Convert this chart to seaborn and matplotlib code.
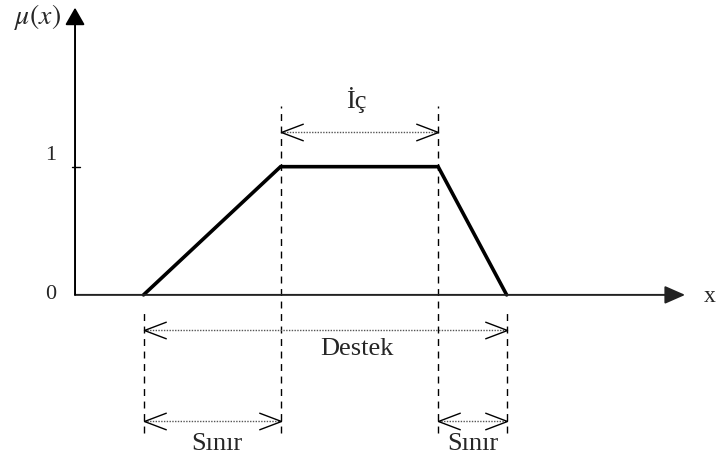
import matplotlib
matplotlib.use("Agg")
import matplotlib.pyplot as plt
from matplotlib.path import Path
import seaborn as sns
import pandas as pd

# trapezoidal membership function
x_points = [1.0, 3.0, 5.3, 6.3]
mu_points = [0, 1, 1, 0]

y_tick_values = [0, 1]
y_tick_labels = ["0", "1"]

# dimension arrows: (start, end, label)
span_starts = [3.0, 1.0, 1.0, 5.3]
span_ends = [5.3, 6.3, 3.0, 6.3]
span_labels = ["İç", "Destek", "Sınır", "Sınır"]

sns.set_style("white")
plt.rcParams["font.family"] = ["Liberation Serif", "DejaVu Serif"]
plt.rcParams["mathtext.fontset"] = "stix"

fig = plt.figure(figsize=(7.17, 4.59), dpi=100)
ax = fig.add_axes([0, 0, 1, 1])
ax.set_xlim(-1.095, 9.37)
ax.set_ylim(-1.28, 2.30)
ax.axis("off")

df = pd.DataFrame({"x": x_points, "mu": mu_points})
sns.lineplot(data=df, x="x", y="mu", color="black", lw=2.6, ax=ax,
             sort=False, solid_joinstyle="miter")

# axes with arrow heads
ax.annotate("", xy=(8.905, 0), xytext=(0, 0),
            arrowprops=dict(arrowstyle="-|>,head_length=1.25,head_width=0.55",
                            color="#222222", lw=1.4, shrinkA=0, shrinkB=0,
                            mutation_scale=10))
ax.annotate("", xy=(0, 2.24), xytext=(0, 0),
            arrowprops=dict(arrowstyle="-|>,head_length=1.05,head_width=0.6",
                            color="black", lw=1.4, shrinkA=0, shrinkB=0,
                            mutation_scale=10))
ax.plot([-0.05, 0.07], [1, 1], color="black", lw=1)

for v, lab in zip(y_tick_values, y_tick_labels):
    ax.text(-0.36, v + (0.09 if v else 0.0), lab, ha="center",
            va="center", fontsize=16)
ax.text(-0.55, 2.17, r"$\mu(x)$", ha="center", va="center", fontsize=20)
ax.text(9.27, -0.01, "x", ha="center", va="center", fontsize=17)

# dashed guide lines
dash = (0, (5, 4))
ax.vlines([x_points[1], x_points[2]], -1.08, 1.47, colors="black",
          lw=1, linestyles=[dash])
ax.vlines([x_points[0], x_points[3]], -1.08, -0.10, colors="black",
          lw=1, linestyles=[dash])

# open chevron arrow heads
left_head = Path([(1, 0.38), (0, 0), (1, -0.38)],
                 [Path.MOVETO, Path.LINETO, Path.LINETO])
right_head = Path([(-1, 0.38), (0, 0), (-1, -0.38)],
                  [Path.MOVETO, Path.LINETO, Path.LINETO])

span_y = [1.27, -0.27, -0.98, -0.98]
label_x = [4.1, 4.12, 2.07, 5.81]
label_y = [1.52, -0.42, -1.16, -1.16]

for s, e, lab, yy, lx, ly in zip(span_starts, span_ends, span_labels,
                                  span_y, label_x, label_y):
    ax.plot([s, e], [yy, yy], color="#555555", lw=1, linestyle=(0, (1, 1)))
    ax.plot([s], [yy], marker=left_head, ms=32, mfc="none", mec="black",
            mew=1, linestyle="none")
    ax.plot([e], [yy], marker=right_head, ms=32, mfc="none", mec="black",
            mew=1, linestyle="none")
    ax.text(lx, ly, lab, ha="center", va="center", fontsize=19)

fig.savefig("out.png", dpi=100)
